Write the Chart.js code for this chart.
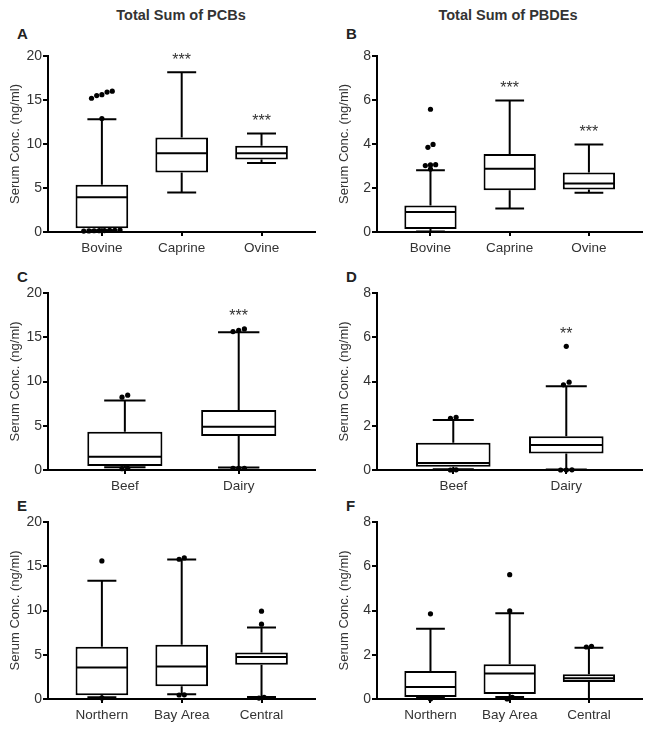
<!DOCTYPE html>
<html>
<head>
<meta charset="utf-8">
<script src="https://cdn.jsdelivr.net/npm/chart.js@4.4.1/dist/chart.umd.min.js"></script>
<style>
  body { margin: 0; background: #fff; font-family: "Liberation Sans", Arial, sans-serif; }
  #page { position: relative; width: 654px; height: 730px; overflow: hidden; }
  .title { position: absolute; font-weight: bold; font-size: 14.5px; line-height: 14px; color: #333; white-space: nowrap; transform: translateX(-50%); }
  .letter { position: absolute; font-weight: bold; font-size: 15px; line-height: 15px; color: #222; }
  canvas { position: absolute; }
</style>
</head>
<body>
<div id="page">
  <div class="title" style="left:181px;top:8px">Total Sum of PCBs</div>
  <div class="title" style="left:508px;top:8px">Total Sum of PBDEs</div>
  <div class="letter" style="left:17px;top:26px">A</div>
  <div class="letter" style="left:346px;top:26px">B</div>
  <div class="letter" style="left:17px;top:269px">C</div>
  <div class="letter" style="left:346px;top:269px">D</div>
  <div class="letter" style="left:17px;top:498px">E</div>
  <div class="letter" style="left:346px;top:498px">F</div>

  <canvas id="chartA" width="327" height="218" style="left:0;top:44px"></canvas>
  <canvas id="chartB" width="325" height="218" style="left:329px;top:44px"></canvas>
  <canvas id="chartC" width="327" height="219" style="left:0;top:281px"></canvas>
  <canvas id="chartD" width="325" height="219" style="left:329px;top:281px"></canvas>
  <canvas id="chartE" width="327" height="219" style="left:0;top:510px"></canvas>
  <canvas id="chartF" width="325" height="219" style="left:329px;top:510px"></canvas>
</div>
<script>
// categorias
const speciesLabels = ["Bovine", "Caprine", "Ovine"];
const productionLabels = ["Beef", "Dairy"];
const regionLabels = ["Northern", "Bay Area", "Central"];

// cajas: [min, q1, mediana, q3, max]
const pcbSpeciesBoxes = [
  [0.2, 0.42, 3.96, 5.36, 12.8],
  [4.49, 6.75, 8.94, 10.75, 18.15],
  [7.85, 8.23, 8.94, 9.81, 11.2]
];
const pcbSpeciesOutliers = [
  [16.0, 15.9, 15.6, 15.5, 15.2, 12.9, 0.1, 0.12, 0.14, 0.15, 0.16, 0.18, 0.2, 0.22],
  [],
  []
];
const pcbSpeciesStars = ["", "***", "***"];

const pbdeSpeciesBoxes = [
  [0.02, 0.14, 0.91, 1.21, 2.81],
  [1.07, 1.90, 2.87, 3.55, 5.98],
  [1.78, 1.93, 2.20, 2.70, 3.98]
];
const pbdeSpeciesOutliers = [
  [5.58, 3.98, 3.85, 3.06, 3.05, 3.02, 2.86],
  [],
  []
];
const pbdeSpeciesStars = ["", "***", "***"];

const pcbProductionBoxes = [
  [0.3, 0.45, 1.5, 4.32, 7.86],
  [0.28, 3.83, 4.89, 6.77, 15.56]
];
const pcbProductionOutliers = [
  [8.46, 8.23, 0.2, 0.15],
  [15.94, 15.79, 15.64, 0.19, 0.18, 0.19]
];
const pcbProductionStars = ["", "***"];

const pbdeProductionBoxes = [
  [0.03, 0.15, 0.32, 1.23, 2.26],
  [0.02, 0.75, 1.13, 1.52, 3.79]
];
const pbdeProductionOutliers = [
  [2.38, 2.33, 0.0, 0.01],
  [5.59, 3.97, 3.85, 0.0, 0.0, 0.01]
];
const pbdeProductionStars = ["", "**"];

const pcbRegionBoxes = [
  [0.19, 0.41, 3.57, 5.90, 13.35],
  [0.53, 1.43, 3.68, 6.13, 15.75],
  [0.23, 3.87, 4.74, 5.26, 8.08]
];
const pcbRegionOutliers = [
  [15.6, 0.12],
  [15.94, 15.79, 0.45, 0.47],
  [9.92, 8.46, 0.11, 0.18]
];

const pbdeRegionBoxes = [
  [0.05, 0.09, 0.54, 1.27, 3.17],
  [0.09, 0.23, 1.15, 1.57, 3.88],
  [0.0, 0.77, 0.94, 1.12, 2.32]
];
const pbdeRegionOutliers = [
  [3.85, 0.0],
  [5.62, 3.98, 0.0, 0.08],
  [2.38, 2.35]
];

Chart.defaults.font.family = '"Liberation Sans", Arial, sans-serif';

// separar puntos que se solapan
function dodge(groups, tol, step) {
  const pts = [];
  groups.forEach((vals, i) => {
    const sorted = [...vals].sort((a, b) => a - b);
    let cluster = [];
    const flush = () => {
      cluster.forEach((v, j) => pts.push({ x: i + (j - (cluster.length - 1) / 2) * step, y: v }));
      cluster = [];
    };
    sorted.forEach(v => {
      if (cluster.length && v - cluster[cluster.length - 1] > tol) flush();
      cluster.push(v);
    });
    flush();
  });
  return pts;
}

function boxPlugin(boxes, outliers, stars) {
  return {
    id: "boxExtras",
    afterDatasetDraw(chart, args) {
      if (args.meta.type !== "bar") return;
      const y = chart.scales.y;
      const ctx = chart.ctx;
      ctx.save();
      ctx.strokeStyle = "#000";
      ctx.lineWidth = 2;
      ctx.lineCap = "butt";
      args.meta.data.forEach((bar, i) => {
        const [lo, q1, med, q3, hi] = boxes[i];
        const cap = bar.width * 0.275;
        const half = bar.width / 2;
        ctx.beginPath();
        ctx.moveTo(bar.x, y.getPixelForValue(q3));
        ctx.lineTo(bar.x, y.getPixelForValue(hi));
        ctx.moveTo(bar.x - cap, y.getPixelForValue(hi));
        ctx.lineTo(bar.x + cap, y.getPixelForValue(hi));
        ctx.moveTo(bar.x, y.getPixelForValue(q1));
        ctx.lineTo(bar.x, y.getPixelForValue(lo));
        ctx.moveTo(bar.x - cap, y.getPixelForValue(lo));
        ctx.lineTo(bar.x + cap, y.getPixelForValue(lo));
        ctx.moveTo(bar.x - half + 1, y.getPixelForValue(med));
        ctx.lineTo(bar.x + half - 1, y.getPixelForValue(med));
        ctx.stroke();
      });
      ctx.restore();
    },
    afterDraw(chart) {
      if (!stars) return;
      const x = chart.scales.x;
      const y = chart.scales.y;
      const ctx = chart.ctx;
      ctx.save();
      ctx.font = '16px "Liberation Sans", Arial, sans-serif';
      ctx.fillStyle = "#333";
      ctx.textAlign = "center";
      ctx.textBaseline = "alphabetic";
      stars.forEach((s, i) => {
        if (!s) return;
        const top = Math.max(boxes[i][4], ...outliers[i]);
        ctx.fillText(s, x.getPixelForValue(i), y.getPixelForValue(top) - 17 + 9.3);
      });
      ctx.restore();
    }
  };
}

function makePanel(id, labels, boxes, outliers, stars, yMax, yStep) {
  const n = labels.length;
  const step = n === 3 ? 0.065 : 0.05;
  new Chart(document.getElementById(id), {
    type: "bar",
    data: {
      datasets: [
        {
          type: "scatter",
          data: dodge(outliers, yMax * 0.02, step),
          pointRadius: 2.6,
          pointBackgroundColor: "#000",
          pointBorderWidth: 0,
          order: 0,
          clip: false
        },
        {
          type: "bar",
          data: boxes.map((b, i) => ({ x: i, y: [b[1], b[3]] })),
          backgroundColor: "#fff",
          borderColor: "#000",
          borderWidth: 2,
          borderSkipped: false,
          barPercentage: 0.66,
          categoryPercentage: 1,
          order: 1
        }
      ]
    },
    options: {
      responsive: false,
      animation: false,
      layout: { padding: { top: 12, right: 12, left: 0, bottom: 0 } },
      plugins: { legend: { display: false }, tooltip: { enabled: false } },
      scales: {
        x: {
          type: "linear",
          min: -0.675,
          max: n - 1 + 0.67,
          offset: false,
          afterBuildTicks: s => { s.ticks = labels.map((_, i) => ({ value: i })); },
          afterFit: s => { s.height = 30; },
          ticks: {
            callback: v => labels[v],
            font: { size: 13.5 },
            color: "#333",
            padding: 4,
            autoSkip: false,
            maxRotation: 0
          },
          grid: { drawOnChartArea: false, offset: false, tickLength: 4, color: "#000", lineWidth: 2 },
          border: { color: "#000", width: 2 }
        },
        y: {
          min: 0,
          max: yMax,
          afterFit: s => { s.width = 48; },
          ticks: { stepSize: yStep, font: { size: 14 }, color: "#333", padding: 1 },
          grid: { drawOnChartArea: false, tickLength: 5, color: "#000", lineWidth: 2 },
          border: { color: "#000", width: 2 },
          title: {
            display: true,
            text: "Serum Conc. (ng/ml)",
            font: { size: 13 },
            color: "#333",
            padding: { top: 8, bottom: 0 }
          }
        }
      }
    },
    plugins: [boxPlugin(boxes, outliers, stars)]
  });
}

makePanel("chartA", speciesLabels, pcbSpeciesBoxes, pcbSpeciesOutliers, pcbSpeciesStars, 20, 5);
makePanel("chartB", speciesLabels, pbdeSpeciesBoxes, pbdeSpeciesOutliers, pbdeSpeciesStars, 8, 2);
makePanel("chartC", productionLabels, pcbProductionBoxes, pcbProductionOutliers, pcbProductionStars, 20, 5);
makePanel("chartD", productionLabels, pbdeProductionBoxes, pbdeProductionOutliers, pbdeProductionStars, 8, 2);
makePanel("chartE", regionLabels, pcbRegionBoxes, pcbRegionOutliers, null, 20, 5);
makePanel("chartF", regionLabels, pbdeRegionBoxes, pbdeRegionOutliers, null, 8, 2);
</script>
</body>
</html>
